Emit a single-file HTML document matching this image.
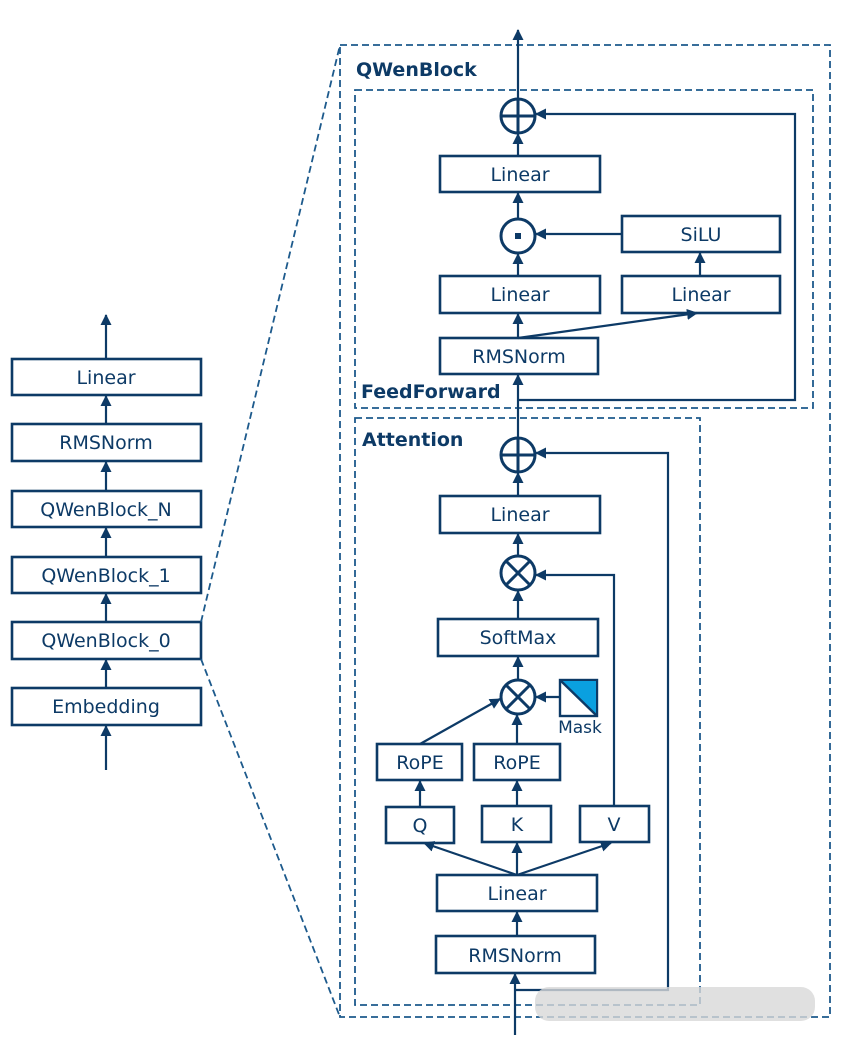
<!DOCTYPE html>
<html><head><meta charset="utf-8"><style>
html,body{margin:0;padding:0;background:#fff;width:849px;height:1045px;overflow:hidden}
text{font-family:"DejaVu Sans","Liberation Sans",sans-serif;fill:#0d3a66}
</style></head><body>
<svg width="849" height="1045" viewBox="0 0 849 1045" xmlns="http://www.w3.org/2000/svg">
<defs>
<marker id="a" markerWidth="11" markerHeight="11" refX="10" refY="5.5" orient="auto" markerUnits="userSpaceOnUse">
<path d="M0,0 L11,5.5 L0,11 Z" fill="#0d3a66"/></marker>
</defs>
<g fill="none" stroke="#0d3a66" stroke-width="2.6">
<rect x="12" y="359" width="189" height="36"/>
<rect x="12" y="424" width="189" height="37"/>
<rect x="12" y="491" width="189" height="36"/>
<rect x="12" y="557" width="189" height="36"/>
<rect x="12" y="622" width="189" height="37"/>
<rect x="12" y="688" width="189" height="37"/>
<g marker-end="url(#a)" stroke-width="2.2">
<line x1="106" y1="359" x2="106" y2="315"/>
<line x1="106" y1="424" x2="106" y2="396"/>
<line x1="106" y1="491" x2="106" y2="462"/>
<line x1="106" y1="557" x2="106" y2="528"/>
<line x1="106" y1="622" x2="106" y2="594"/>
<line x1="106" y1="688" x2="106" y2="660"/>
<line x1="106" y1="770" x2="106" y2="726"/>
</g>
</g>
<g fill="none" stroke="#1d5a8c" stroke-width="1.8" stroke-dasharray="7,4">
<line x1="201" y1="622" x2="340" y2="45"/>
<line x1="201" y1="659" x2="340" y2="1017"/>
<rect x="340" y="45" width="490" height="972"/>
<rect x="355" y="90" width="458" height="318"/>
<rect x="355" y="418" width="345" height="587"/>
</g>
<text x="356" y="76" font-size="19" font-weight="bold">QWenBlock</text>
<text x="361" y="398" font-size="19" font-weight="bold">FeedForward</text>
<text x="362" y="446" font-size="19" font-weight="bold">Attention</text>
<g fill="none" stroke="#0d3a66" stroke-width="2.6">
<rect x="440" y="156" width="160" height="36"/>
<rect x="622" y="216" width="158" height="36"/>
<rect x="440" y="276" width="160" height="37"/>
<rect x="622" y="276" width="158" height="37"/>
<rect x="440" y="338" width="158" height="36"/>
<circle cx="518" cy="116" r="17" stroke-width="3"/>
<line x1="501" y1="116" x2="535" y2="116" stroke-width="3"/>
<circle cx="518" cy="236" r="17" stroke-width="3"/>
<rect x="440" y="496" width="160" height="37"/>
<rect x="438" y="619" width="160" height="37"/>
<rect x="377" y="744" width="85" height="36"/>
<rect x="474" y="744" width="86" height="36"/>
<rect x="386" y="807" width="68" height="36"/>
<rect x="482" y="806" width="69" height="36"/>
<rect x="580" y="806" width="69" height="36"/>
<rect x="437" y="875" width="160" height="36"/>
<rect x="436" y="936" width="159" height="37"/>
<circle cx="518" cy="455" r="17" stroke-width="3"/>
<line x1="501" y1="455" x2="535" y2="455" stroke-width="3"/>
<line x1="518" y1="438" x2="518" y2="472" stroke-width="3"/>
<circle cx="518" cy="573" r="17" stroke-width="3"/>
<line x1="506" y1="561" x2="530" y2="585" stroke-width="3"/>
<line x1="530" y1="561" x2="506" y2="585" stroke-width="3"/>
<circle cx="518" cy="697" r="17" stroke-width="3"/>
<line x1="506" y1="685" x2="530" y2="709" stroke-width="3"/>
<line x1="530" y1="685" x2="506" y2="709" stroke-width="3"/>
<g marker-end="url(#a)" stroke-width="2.2">
<line x1="518" y1="133" x2="518" y2="30"/>
<line x1="518" y1="156" x2="518" y2="134"/>
<line x1="518" y1="219" x2="518" y2="193"/>
<line x1="622" y1="234" x2="536" y2="234"/>
<line x1="700" y1="276" x2="700" y2="253"/>
<line x1="518" y1="276" x2="518" y2="254"/>
<line x1="518" y1="338" x2="518" y2="314"/>
<line x1="518" y1="338" x2="697" y2="313"/>
<line x1="518" y1="438" x2="518" y2="375"/>
<polyline points="518,400 795,400 795,114 536,114"/>
<line x1="518" y1="496" x2="518" y2="473"/>
<line x1="518" y1="556" x2="518" y2="534"/>
<line x1="518" y1="619" x2="518" y2="591"/>
<polyline points="614,806 614,575 536,575"/>
<line x1="518" y1="680" x2="518" y2="657"/>
<line x1="560" y1="697" x2="536" y2="697"/>
<line x1="420" y1="744" x2="500" y2="699"/>
<line x1="517" y1="744" x2="517" y2="715"/>
<line x1="420" y1="807" x2="420" y2="781"/>
<line x1="517" y1="806" x2="517" y2="781"/>
<line x1="517" y1="875" x2="424" y2="843"/>
<line x1="517" y1="875" x2="517" y2="843"/>
<line x1="517" y1="875" x2="611" y2="843"/>
<line x1="517" y1="936" x2="517" y2="912"/>
<line x1="515" y1="1035" x2="515" y2="974"/>
<polyline points="515,990 668,990 668,453 536,453"/>
</g>
</g>
<line x1="518" y1="99" x2="518" y2="133" stroke="#0d3a66" stroke-width="3"/>
<rect x="515" y="233" width="6" height="6" fill="#0d3a66"/>
<rect x="560" y="680" width="37" height="36" fill="#fff" stroke="#0d3a66" stroke-width="2.4"/>
<polygon points="561,681 596,681 596,715" fill="#0aa0e0"/>
<line x1="560" y1="680" x2="597" y2="716" stroke="#0d3a66" stroke-width="2.4"/>
<rect x="535" y="987" width="280" height="34" rx="14" fill="#d8d8d8" opacity="0.8"/>
<g font-size="19" text-anchor="middle">
<text x="106" y="384">Linear</text>
<text x="106" y="449">RMSNorm</text>
<text x="106" y="516">QWenBlock_N</text>
<text x="106" y="582">QWenBlock_1</text>
<text x="106" y="647">QWenBlock_0</text>
<text x="106" y="713">Embedding</text>
<text x="520" y="181">Linear</text>
<text x="701" y="241">SiLU</text>
<text x="520" y="301">Linear</text>
<text x="701" y="301">Linear</text>
<text x="519" y="363">RMSNorm</text>
<text x="520" y="521">Linear</text>
<text x="518" y="644">SoftMax</text>
<text x="420" y="769">RoPE</text>
<text x="517" y="769">RoPE</text>
<text x="420" y="832">Q</text>
<text x="517" y="831">K</text>
<text x="614" y="831">V</text>
<text x="517" y="900">Linear</text>
<text x="515" y="962">RMSNorm</text>
<text x="580" y="733" font-size="17">Mask</text>
</g>
</svg>
</body></html>
